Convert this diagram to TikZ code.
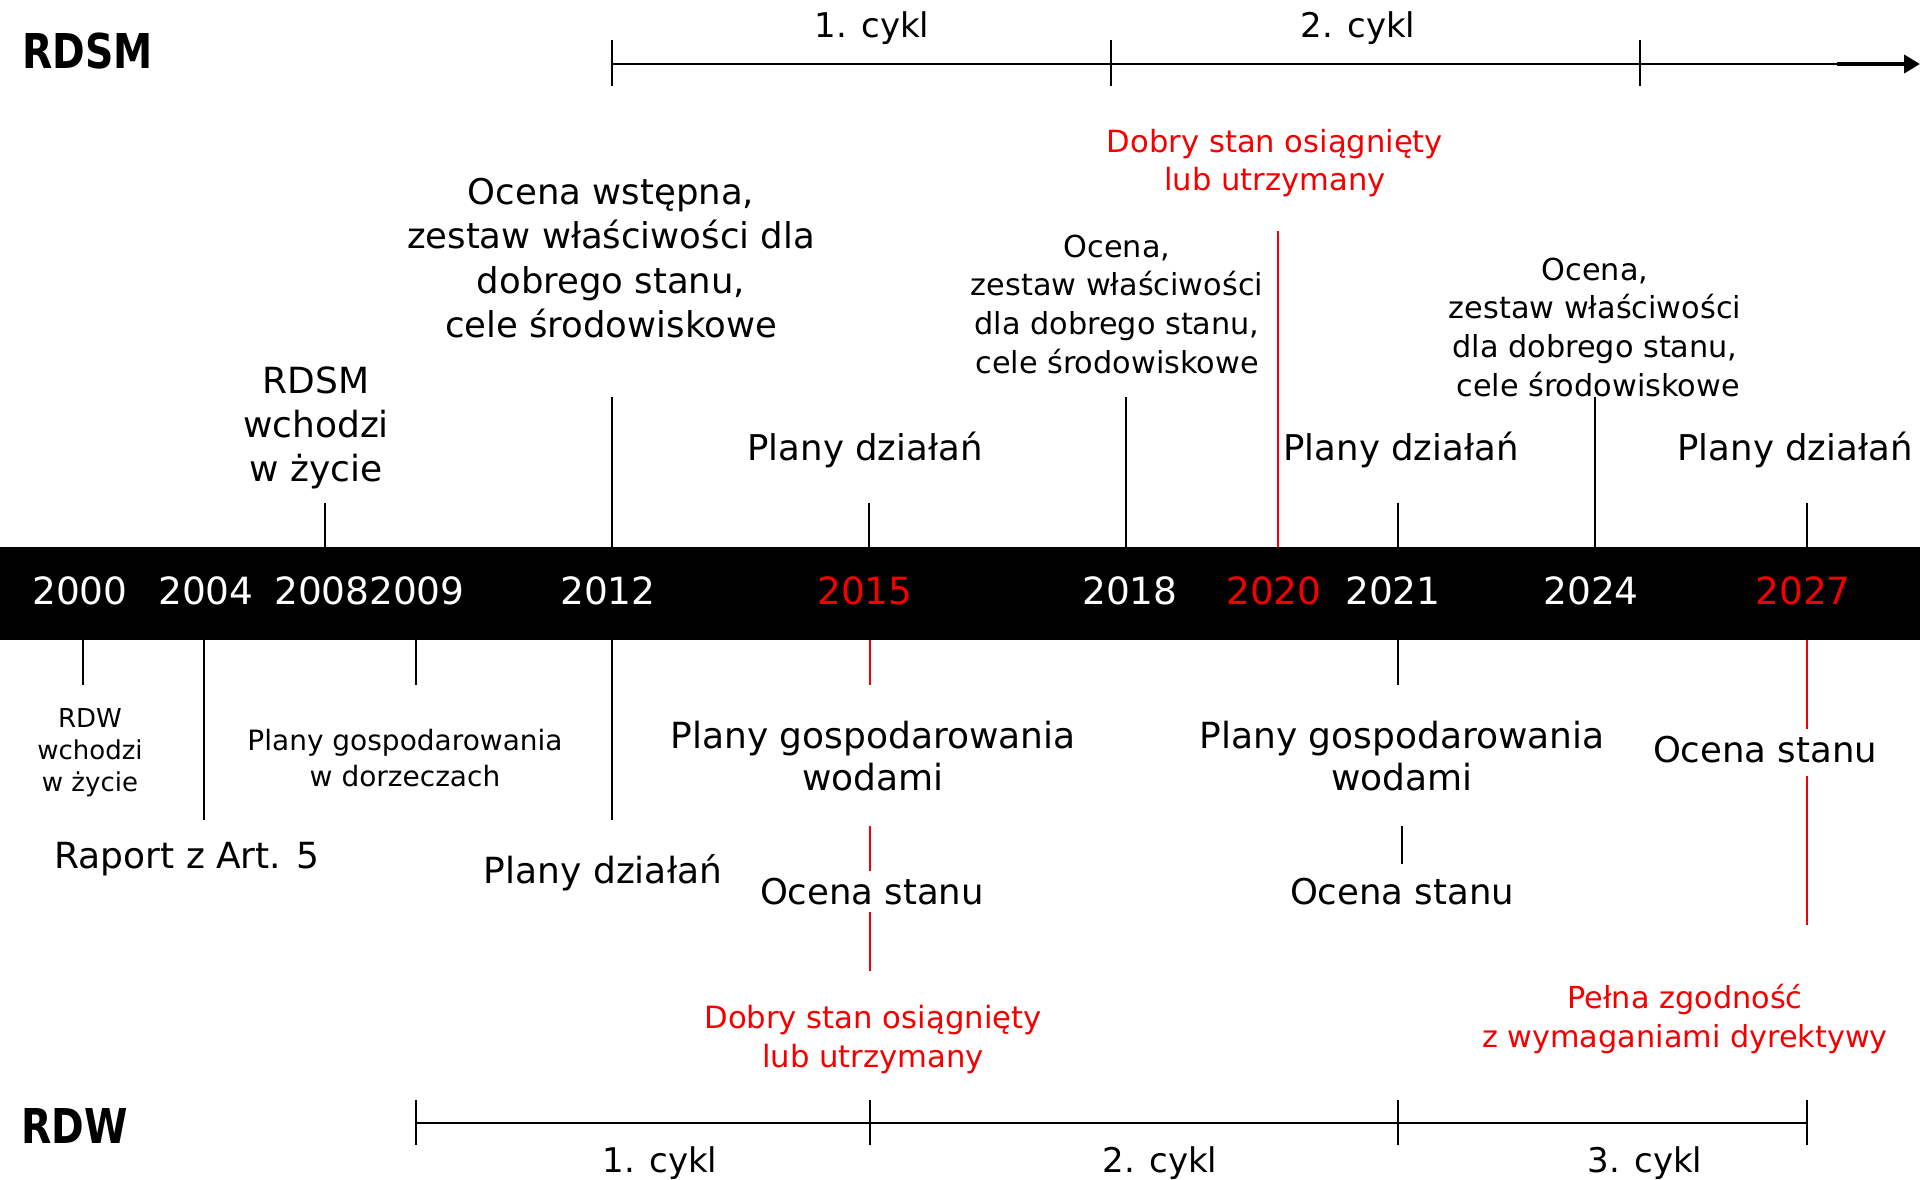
\documentclass[tikz,border=0pt]{standalone}
\usepackage{fontspec}
\setmainfont{DejaVu Sans}
\usetikzlibrary{arrows.meta}
\definecolor{myred}{RGB}{245,0,0}
\newcommand{\fs}{\rule{0pt}{0.85em}}
\tikzset{
  txt/.style 2 args={font=\fontsize{#1}{#2}\selectfont, align=center, inner sep=0pt},
  yr/.style={font=\fontsize{37.5}{44}\selectfont, inner sep=0pt, anchor=base, text=white},
  yrred/.style={yr, text=myred},
  ttl/.style={font=\fontsize{48}{56}\selectfont\bfseries, inner sep=0pt, anchor=base west},
  cyk/.style={font=\fontsize{34}{40}\selectfont, inner sep=0pt, anchor=base},
  tk/.style={line width=1.5pt, draw=black},
  rtk/.style={line width=1.5pt, draw=myred},
  axis/.style={line width=2pt, draw=black},
  redtxt/.style={text=myred}
}
\begin{document}
\begin{tikzpicture}[x=1pt,y=-1pt]
\useasboundingbox (0,0) rectangle (1920,1179);

% black band
\node[fill=black, minimum width=1920pt, minimum height=93pt, inner sep=0pt, anchor=north west] (band) at (0,547) {};

% years
\node[yr] (y2000) at (80,604) {2000};
\node[yr] (y2004) at (206,604) {2004};
\node[yr] (y2008) at (322,604) {2008};
\node[yr] (y2009) at (417,604) {2009};
\node[yr] (y2012) at (608,604) {2012};
\node[yrred] (y2015) at (865,604) {2015};
\node[yr] (y2018) at (1130,604) {2018};
\node[yrred] (y2020) at (1274,604) {2020};
\node[yr] (y2021) at (1393,604) {2021};
\node[yr] (y2024) at (1591,604) {2024};
\node[yrred] (y2027) at (1803,604) {2027};

% titles
\node[ttl] (rdsm) at (22,68) {\scalebox{0.82}[1]{RDSM}};
\node[ttl] (rdw) at (21,1143) {\scalebox{0.82}[1]{RDW}};

% top axis (RDSM)
\coordinate (a0) at (612,64);
\coordinate (a1) at (1111,64);
\coordinate (a2) at (1640,64);
\coordinate (ath) at (1837,64);
\coordinate (aend) at (1920,64);
\coordinate (a0t) at (612,40);  \coordinate (a0b) at (612,86);
\coordinate (a1t) at (1111,40); \coordinate (a1b) at (1111,86);
\coordinate (a2t) at (1640,40); \coordinate (a2b) at (1640,86);
\draw[axis] (a0) -- (ath);
\draw[line width=4pt, -{Triangle[length=16pt,width=18pt]}] (ath) -- (aend);
\draw[axis] (a0t) -- (a0b);
\draw[axis] (a1t) -- (a1b);
\draw[axis] (a2t) -- (a2b);
\node[cyk] (c1t) at (872,37) {1. cykl};
\node[cyk] (c2t) at (1358,37) {2. cykl};

% bottom axis (RDW)
\coordinate (b0) at (416,1123);
\coordinate (b1) at (870,1123);
\coordinate (b2) at (1398,1123);
\coordinate (b3) at (1807,1123);
\coordinate (b0t) at (416,1100); \coordinate (b0b) at (416,1145);
\coordinate (b1t) at (870,1100); \coordinate (b1b) at (870,1145);
\coordinate (b2t) at (1398,1100); \coordinate (b2b) at (1398,1145);
\coordinate (b3t) at (1807,1100); \coordinate (b3b) at (1807,1145);
\draw[axis] (b0) -- (b3);
\draw[axis] (b0t) -- (b0b);
\draw[axis] (b1t) -- (b1b);
\draw[axis] (b2t) -- (b2b);
\draw[axis] (b3t) -- (b3b);
\node[cyk] (c1b) at (660,1172) {1. cykl};
\node[cyk] (c2b) at (1160,1172) {2. cykl};
\node[cyk] (c3b) at (1645,1172) {3. cykl};

% labels above the band
\node[txt={35.5}{44.5}, anchor=north] (ocw) at (611,173.8)
  {\fs Ocena wstępna,\\zestaw właściwości dla\\dobrego stanu,\\cele środowiskowe};
\node[txt={36}{44}, anchor=north] (rdsmin) at (316,362.4)
  {\fs RDSM\\wchodzi\\w życie};
\node[txt={35.5}{44}, anchor=base] (pdA) at (865,460) {Plany działań};
\node[txt={35.5}{44}, anchor=base] (pdB) at (1401,460) {Plany działań};
\node[txt={35.5}{44}, anchor=base] (pdC) at (1795,460) {Plany działań};
\node[txt={30.6}{38}, anchor=north, redtxt] (redtop) at (1275,126)
  {\fs Dobry stan osiągnięty\\lub utrzymany};
\node[txt={30.3}{38.7}, anchor=north] (oc18) at (1117,231.2)
  {\fs Ocena,\\zestaw właściwości\\dla dobrego stanu,\\cele środowiskowe};
\node[txt={30.3}{38.7}, anchor=north] (oc24) at (1595,254.2)
  {\fs Ocena,\\zestaw właściwości\\dla dobrego stanu,\\\hspace*{6pt}cele środowiskowe};

% labels below the band
\node[txt={26}{32}, anchor=north] (rdwin) at (90,705.4) {\fs RDW\\wchodzi\\w życie};
\node[txt={28}{36.5}, anchor=north] (pgd) at (405,726.2) {\fs Plany gospodarowania\\w dorzeczach};
\node[txt={36}{44}, anchor=base] (raport) at (187,868) {Raport z Art. 5};
\node[txt={36}{44}, anchor=base] (pd12) at (603,883.5) {Plany działań};
\node[txt={36}{42.6}, anchor=north] (pgw15) at (873,717.4) {\fs Plany gospodarowania\\wodami};
\node[txt={35.5}{44}, anchor=base] (oc15) at (872,904) {Ocena stanu};
\node[txt={30.7}{39.5}, anchor=north, redtxt] (redbot) at (873,1001.9)
  {\fs Dobry stan osiągnięty\\lub utrzymany};
\node[txt={36}{42.6}, anchor=north] (pgw21) at (1402,717.4) {\fs Plany gospodarowania\\wodami};
\node[txt={35.5}{44}, anchor=base] (oc21) at (1402,904) {Ocena stanu};
\node[txt={35.5}{44}, anchor=base] (oc27) at (1765,762) {Ocena stanu};
\node[txt={30.3}{38.5}, anchor=north, redtxt] (pelna) at (1685,982.8)
  {\fs Pełna zgodność\\z wymaganiami dyrektywy};

% ticks above band
\coordinate (u2008) at (325,547);  \coordinate (u2008e) at (325,503);
\coordinate (u2012) at (612,547);  \coordinate (u2012e) at (612,397);
\coordinate (u2015) at (869,547);  \coordinate (u2015e) at (869,503);
\coordinate (u2018) at (1126,547); \coordinate (u2018e) at (1126,397);
\coordinate (u2020) at (1278,547); \coordinate (u2020e) at (1278,231);
\coordinate (u2021) at (1398,547); \coordinate (u2021e) at (1398,503);
\coordinate (u2024) at (1595,547); \coordinate (u2024e) at (1595,397);
\coordinate (u2027) at (1807,547); \coordinate (u2027e) at (1807,503);
\draw[tk] (u2008) -- (u2008e);
\draw[tk] (u2012) -- (u2012e);
\draw[tk] (u2015) -- (u2015e);
\draw[tk] (u2018) -- (u2018e);
\draw[rtk] (u2020) -- (u2020e);
\draw[tk] (u2021) -- (u2021e);
\draw[tk] (u2024) -- (u2024e);
\draw[tk] (u2027) -- (u2027e);

% ticks below band
\coordinate (d2000) at (83,640);   \coordinate (d2000e) at (83,685);
\coordinate (d2004) at (204,640);  \coordinate (d2004e) at (204,820);
\coordinate (d2009) at (416,640);  \coordinate (d2009e) at (416,685);
\coordinate (d2012) at (612,640);  \coordinate (d2012e) at (612,820);
\coordinate (d2015) at (870,640);  \coordinate (d2015e) at (870,685);
\coordinate (d2015a) at (870,826); \coordinate (d2015b) at (870,871);
\coordinate (d2015c) at (870,912); \coordinate (d2015d) at (870,971);
\coordinate (d2021) at (1398,640); \coordinate (d2021e) at (1398,685);
\coordinate (d2021a) at (1402,826); \coordinate (d2021b) at (1402,864);
\coordinate (d2027) at (1807,640); \coordinate (d2027e) at (1807,729);
\coordinate (d2027a) at (1807,776); \coordinate (d2027b) at (1807,925);
\draw[tk] (d2000) -- (d2000e);
\draw[tk] (d2004) -- (d2004e);
\draw[tk] (d2009) -- (d2009e);
\draw[tk] (d2012) -- (d2012e);
\draw[rtk] (d2015) -- (d2015e);
\draw[rtk] (d2015a) -- (d2015b);
\draw[rtk] (d2015c) -- (d2015d);
\draw[tk] (d2021) -- (d2021e);
\draw[tk] (d2021a) -- (d2021b);
\draw[rtk] (d2027) -- (d2027e);
\draw[rtk] (d2027a) -- (d2027b);
\end{tikzpicture}
\end{document}
